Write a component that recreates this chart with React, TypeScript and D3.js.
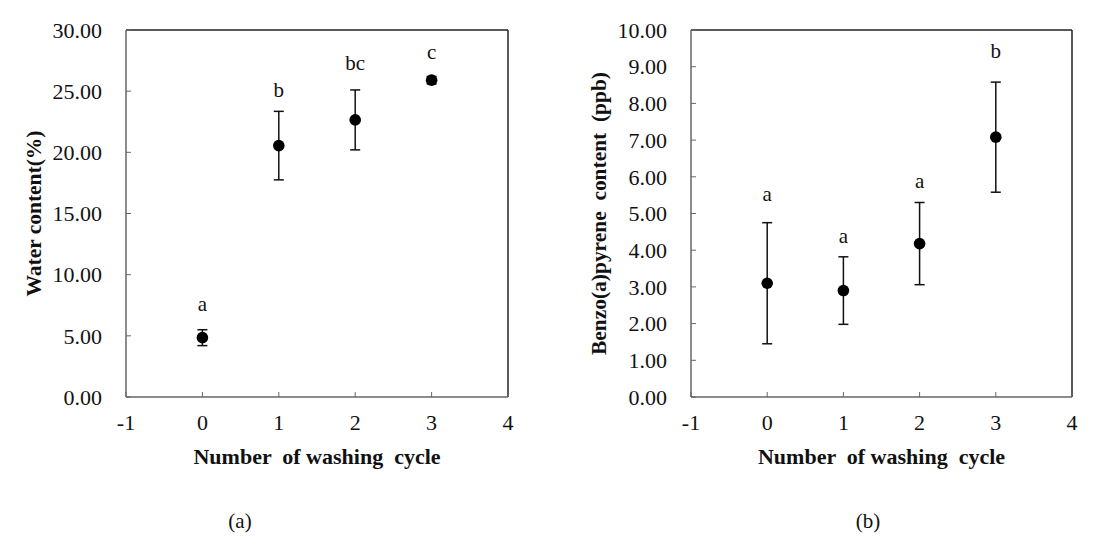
import React from "react";
import * as d3 from "d3";

const cycles = [0, 1, 2, 3];
const xTicks = [-1, 0, 1, 2, 3, 4];

const waterMean = [4.85, 20.55, 22.65, 25.9];
const waterErr = [0.65, 2.8, 2.45, 0.3];
const waterLetters = ["a", "b", "bc", "c"];
const waterLetterY = [7.6, 25.15, 27.35, 28.25];
const waterTicks = [0, 5, 10, 15, 20, 25, 30];

const bapMean = [3.1, 2.9, 4.18, 7.08];
const bapErr = [1.65, 0.92, 1.12, 1.5];
const bapLetters = ["a", "a", "a", "b"];
const bapLetterY = [5.55, 4.4, 5.9, 9.45];
const bapTicks = [0, 1, 2, 3, 4, 5, 6, 7, 8, 9, 10];

const FONT = "'Liberation Serif', 'Times New Roman', serif";

type PanelProps = {
  left: number;
  right: number;
  top: number;
  bottom: number;
  yMax: number;
  yTicks: number[];
  means: number[];
  errs: number[];
  letters: string[];
  letterY: number[];
  yTitle: string;
  yTitleX: number;
  yTitleLen: number;
  caption: string;
  captionX: number;
};

function Panel(p: PanelProps) {
  const x = d3.scaleLinear().domain([-1, 4]).range([p.left, p.right]);
  const y = d3.scaleLinear().domain([0, p.yMax]).range([p.bottom, p.top]);
  const fmt = d3.format(".2f");
  const cx = (p.left + p.right) / 2;
  const cy = (p.top + p.bottom) / 2;
  const tick = 5;
  const cap = 5;
  return (
    <g>
      <line x1={p.left} x2={p.right} y1={p.top} y2={p.top} stroke="#222" strokeWidth={1.5} />
      <line x1={p.right} x2={p.right} y1={p.top} y2={p.bottom} stroke="#222" strokeWidth={1.5} />
      <line x1={p.left} x2={p.right} y1={p.bottom} y2={p.bottom} stroke="#666" strokeWidth={1.5} />
      <line x1={p.left} x2={p.left} y1={p.top} y2={p.bottom} stroke="#666" strokeWidth={1.5} />
      {p.yTicks.map((t) => (
        <g key={"y" + t}>
          <line x1={p.left} x2={p.left + tick} y1={y(t)} y2={y(t)} stroke="#666" strokeWidth={1} />
          <text x={p.left - 24} y={y(t)} dy="0.35em" textAnchor="end" fontFamily={FONT} fontSize={22} fill="#111">
            {fmt(t)}
          </text>
        </g>
      ))}
      {xTicks.map((t) => (
        <g key={"x" + t}>
          <line x1={x(t)} x2={x(t)} y1={p.bottom} y2={p.bottom - tick} stroke="#666" strokeWidth={1} />
          <text x={x(t)} y={p.bottom + 33} textAnchor="middle" fontFamily={FONT} fontSize={22} fill="#111">
            {t}
          </text>
        </g>
      ))}
      {cycles.map((c, i) => (
        <g key={"p" + c}>
          <line x1={x(c)} x2={x(c)} y1={y(p.means[i] - p.errs[i])} y2={y(p.means[i] + p.errs[i])} stroke="#111" strokeWidth={1.5} />
          <line x1={x(c) - cap} x2={x(c) + cap} y1={y(p.means[i] + p.errs[i])} y2={y(p.means[i] + p.errs[i])} stroke="#111" strokeWidth={1.5} />
          <line x1={x(c) - cap} x2={x(c) + cap} y1={y(p.means[i] - p.errs[i])} y2={y(p.means[i] - p.errs[i])} stroke="#111" strokeWidth={1.5} />
          <circle cx={x(c)} cy={y(p.means[i])} r={5.8} fill="#000" />
          <text x={x(c)} y={y(p.letterY[i])} dy="0.35em" textAnchor="middle" fontFamily={FONT} fontSize={21} fill="#111">
            {p.letters[i]}
          </text>
        </g>
      ))}
      <text x={cx} y={p.bottom + 67} textAnchor="middle" fontFamily={FONT} fontSize={22} fontWeight="bold" fill="#111" style={{ whiteSpace: "pre" }}>
        {"Number  of washing  cycle"}
      </text>
      <text
        transform={`translate(${p.yTitleX},${cy}) rotate(-90)`}
        textAnchor="middle"
        dy="0.35em"
        fontFamily={FONT}
        fontSize={22}
        fontWeight="bold"
        fill="#111"
        textLength={p.yTitleLen}
        lengthAdjust="spacingAndGlyphs"
        style={{ whiteSpace: "pre" }}
      >
        {p.yTitle}
      </text>
      <text x={p.captionX} y={528} textAnchor="middle" fontFamily={FONT} fontSize={21} fill="#111">
        {p.caption}
      </text>
    </g>
  );
}

export default function App() {
  return (
    <svg width={1110} height={545} style={{ position: "absolute", left: 0, top: 0, background: "#fff" }}>
      <rect width={1110} height={545} fill="#fff" />
      <Panel
        left={126}
        right={508}
        top={30}
        bottom={397}
        yMax={30}
        yTicks={waterTicks}
        means={waterMean}
        errs={waterErr}
        letters={waterLetters}
        letterY={waterLetterY}
        yTitle="Water content(%)"
        yTitleX={33}
        yTitleLen={166}
        caption="(a)"
        captionX={240}
      />
      <Panel
        left={691}
        right={1072}
        top={30}
        bottom={397}
        yMax={10}
        yTicks={bapTicks}
        means={bapMean}
        errs={bapErr}
        letters={bapLetters}
        letterY={bapLetterY}
        yTitle="Benzo(a)pyrene  content  (ppb)"
        yTitleX={598}
        yTitleLen={283}
        caption="(b)"
        captionX={868}
      />
    </svg>
  );
}
